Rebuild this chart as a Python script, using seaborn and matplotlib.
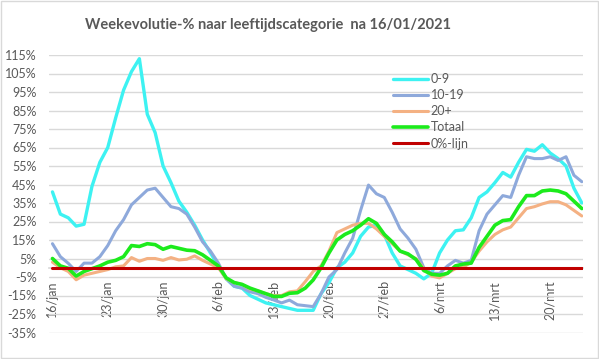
import pandas as pd
import numpy as np
import matplotlib
matplotlib.use("Agg")
import matplotlib.pyplot as plt
import seaborn as sns

# ------------------ Data (weekly evolution in %) ------------------
start_date = "2021-01-16"

leeftijd_0_9 = [41, 29, 27, 22.5, 23.5, 44, 57, 65, 81, 96,
                106, 113, 83, 73, 55, 46, 36, 30, 23, 15,
                8, 1, -6, -10, -11, -15, -17, -19, -20, -21,
                -22, -23, -23, -23, -14, -8, 0, 3, 8, 17,
                22, 23, 18, 8, 1, -1, -3, -6, -3, 8,
                15, 20, 20.5, 27, 38, 41, 46, 51.5, 49, 57,
                64, 63, 66.5, 62, 59, 55, 43, 35]
leeftijd_10_19 = [13, 6, 2.4, -2, 2.5, 2.5, 6, 12, 20, 26,
                  34, 38, 42, 43, 38, 33, 32, 29, 22, 14,
                  9, 2.5, -6, -10, -11, -13, -14, -16, -17.4, -19,
                  -17.5, -20, -20.5, -21, -14, -5, -1, 8, 16, 31,
                  44.7, 40, 38, 30, 21, 16, 10, 0, -3, -3,
                  1, 4, 2.5, 4, 20, 29, 34, 39, 38, 50,
                  60, 59, 59, 60, 58, 60, 50, 46.5]
leeftijd_20plus = [3, 0, -2, -6.5, -4, -3, -2, -1, 0.5, 1,
                   5.5, 3.5, 5, 5, 4, 5.5, 4.2, 4.6, 6.4, 4,
                   2, 0, -6, -8, -9, -11.5, -12.5, -14, -15, -15,
                   -13, -12.5, -7.5, -2, 1, 9, 19, 21, 23, 24,
                   24, 21, 17, 13, 9, 7, 5, -0.5, -4.5, -5.5,
                   -3, -0.5, 0.3, 3, 9, 14, 18, 20.5, 22, 27,
                   32, 33, 34.5, 35.7, 35.7, 34, 31, 28]
totaal = [5, 1, -0.3, -4.5, -2, -0.5, 1, 3, 4, 6,
          12, 11.5, 13, 12.5, 10, 11.5, 10.5, 9.5, 9.2, 7,
          4, 1, -5.5, -8, -9, -11, -12.5, -14, -15.5, -15.5,
          -13.8, -13.5, -11, -6.6, 0, 8, 15, 18, 20, 23,
          26.5, 24, 18, 14, 9, 7.5, 4.5, -1.5, -3.5, -4,
          -3, 1, 2, 2.5, 11, 17, 23, 25.5, 26, 33,
          39, 39, 41.5, 42, 41.5, 40, 36, 32]

series_names = ["0-9", "10-19", "20+", "Totaal", "0%-lijn"]
maanden = {1: "jan", 2: "feb", 3: "mrt"}

dates = pd.date_range(start_date, periods=len(totaal), freq="D")
df = pd.DataFrame({
    "datum": dates,
    "0-9": leeftijd_0_9,
    "10-19": leeftijd_10_19,
    "20+": leeftijd_20plus,
    "Totaal": totaal,
    "0%-lijn": [0] * len(totaal),
})

colors = {"0-9": "#3DF2F2", "10-19": "#8EA9DB", "20+": "#F4B183",
          "Totaal": "#1CEB1C", "0%-lijn": "#C00000"}
widths = {"0-9": 2.4, "10-19": 2.2, "20+": 2.2, "Totaal": 2.6, "0%-lijn": 2.2}

# ------------------ Plot ------------------
sns.set_theme(style="white")
plt.rcParams["font.family"] = ["Lato", "DejaVu Sans"]
text_color = "#595959"

fig = plt.figure(figsize=(5.99, 3.59), dpi=100)
ax = fig.add_axes([49 / 599, 1 - 332.5 / 359, (583 - 49) / 599, (332.5 - 55) / 359])

for name in series_names:
    sns.lineplot(data=df, x="datum", y=name, ax=ax, color=colors[name],
                 linewidth=widths[name], label=name)

ax.set_ylim(-35, 115)
ax.set_yticks(np.arange(-35, 116, 10))
ax.set_yticklabels([f"{v}%" for v in range(-35, 116, 10)])
ax.set_xlim(dates[0] - pd.Timedelta(hours=10.5), dates[-1] + pd.Timedelta(hours=3.6))

tick_dates = dates[::7]
ax.set_xticks(tick_dates)
ax.set_xticklabels([f"{d.day}/{maanden[d.month]}" for d in tick_dates])

ax.grid(axis="y", color="#D9D9D9", linewidth=1)
ax.set_axisbelow(True)
for side in ["top", "right", "left"]:
    ax.spines[side].set_visible(False)
ax.spines["bottom"].set_position(("data", 0))
ax.spines["bottom"].set_color("#D9D9D9")
ax.spines["bottom"].set_zorder(0.8)
ax.set_xlabel("")
ax.set_ylabel("")

ax.tick_params(axis="y", length=0, pad=9, labelsize=9, labelcolor=text_color)
ax.tick_params(axis="x", length=3, direction="inout", color="#BFBFBF",
               pad=7.5, labelsize=9, labelcolor=text_color, labelrotation=90)

handles, labels = ax.get_legend_handles_labels()
leg = ax.legend(handles, labels, loc="upper left", frameon=False,
                bbox_to_anchor=(388 / 599, 1 - 68 / 359), bbox_transform=fig.transFigure,
                fontsize=9, handlelength=2.8, handletextpad=0.2, labelspacing=0.33,
                borderaxespad=0)
for t in leg.get_texts():
    t.set_color(text_color)

fig.text(268 / 599, 1 - 25 / 359, "Weekevolutie-% naar leeftijdscategorie  na 16/01/2021",
         ha="center", va="center", fontsize=10.5, fontweight="bold", color=text_color)

fig.patches.append(plt.Rectangle((0.001, 0.002), 0.997, 0.995, transform=fig.transFigure,
                                 fill=False, edgecolor="#D9D9D9", linewidth=1))

fig.savefig("out.png", dpi=100)
